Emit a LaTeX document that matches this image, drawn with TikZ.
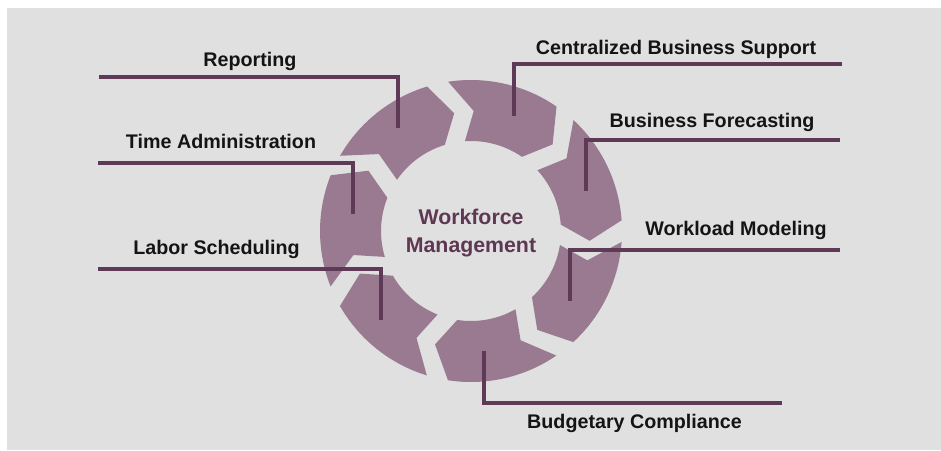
\documentclass[tikz,border=0pt]{standalone}
\usepackage{fontspec}
\setmainfont{Liberation Sans}
\usetikzlibrary{calc}
\definecolor{panel}{HTML}{DFE0DF}
\definecolor{wedge}{HTML}{997A91}
\definecolor{plum}{HTML}{5E3A56}
\definecolor{hub}{HTML}{5E3753}
\tikzset{
  tag/.style={font=\fontsize{19.7}{24}\selectfont\bfseries, text=black!92, inner sep=0pt, anchor=base},
  hubtext/.style={font=\fontsize{21.3}{28}\selectfont\bfseries, text=hub, align=center, inner sep=0pt},
  leader/.style={draw=plum, line width=3.1pt, line join=miter},
  arrowpiece/.style={fill=wedge},
}
\begin{document}
\begin{tikzpicture}[x=1pt,y=1pt]
  \useasboundingbox (0,0) rectangle (941,450);
  % page and grey panel
  \fill[white] (0,0) rectangle (941,450);
  \fill[panel] (7,0) rectangle (941,442);

  % seven clockwise arrow pieces forming the ring
  \begin{scope}[shift={(471,219)}]
    \foreach \k in {0,...,6}{
      \pgfmathsetmacro\hd{55.5-51.43*\k}
      \pgfmathsetmacro\tout{\hd+43.2}
      \pgfmathsetmacro\ttip{\hd-8.8}
      \pgfmathsetmacro\tin{\hd+38.4}
      \pgfmathsetmacro\tnot{\hd+33.2}
      \fill[arrowpiece] (\tout:151) arc[start angle=\tout, end angle=\hd, radius=151]
        -- (\ttip:119) -- (\hd:90) arc[start angle=\hd, end angle=\tin, radius=90]
        -- (\tnot:120) -- cycle;
    }
  \end{scope}

  % hub title
  \node[hubtext] (hub) at (471,216.5) {Workforce\\Management};

  % labels
  \node[tag] (rep) at (250,383) {Reporting};
  \node[tag] (tad) at (221,301) {Time Administration};
  \node[tag] (lab) at (216.5,195) {Labor Scheduling};
  \node[tag] (cbs) at (676,395) {Centralized Business Support};
  \node[tag] (bfc) at (712,322) {Business Forecasting};
  \node[tag] (wlm) at (736,214) {Workload Modeling};
  \node[tag] (bud) at (634.5,22) {Budgetary Compliance};

  % leader line anchor points
  \coordinate (rep-a) at (99,373);  \coordinate (rep-b) at (398,373);  \coordinate (rep-c) at (398,322);
  \coordinate (tad-a) at (98,287);  \coordinate (tad-b) at (353,287);  \coordinate (tad-c) at (353,236);
  \coordinate (lab-a) at (98,181);  \coordinate (lab-b) at (381,181);  \coordinate (lab-c) at (381,130);
  \coordinate (cbs-a) at (842,386); \coordinate (cbs-b) at (514,386);  \coordinate (cbs-c) at (514,334);
  \coordinate (bfc-a) at (840,310); \coordinate (bfc-b) at (586,310);  \coordinate (bfc-c) at (586,259);
  \coordinate (wlm-a) at (840,200); \coordinate (wlm-b) at (570,200);  \coordinate (wlm-c) at (570,149);
  \coordinate (bud-a) at (782,47);  \coordinate (bud-b) at (484,47);   \coordinate (bud-c) at (484,99);

  % leader lines
  \foreach \n in {rep,tad,lab,cbs,bfc,wlm,bud}{
    \draw[leader] (\n-a) -- (\n-b) -- (\n-c);
  }
\end{tikzpicture}
\end{document}
